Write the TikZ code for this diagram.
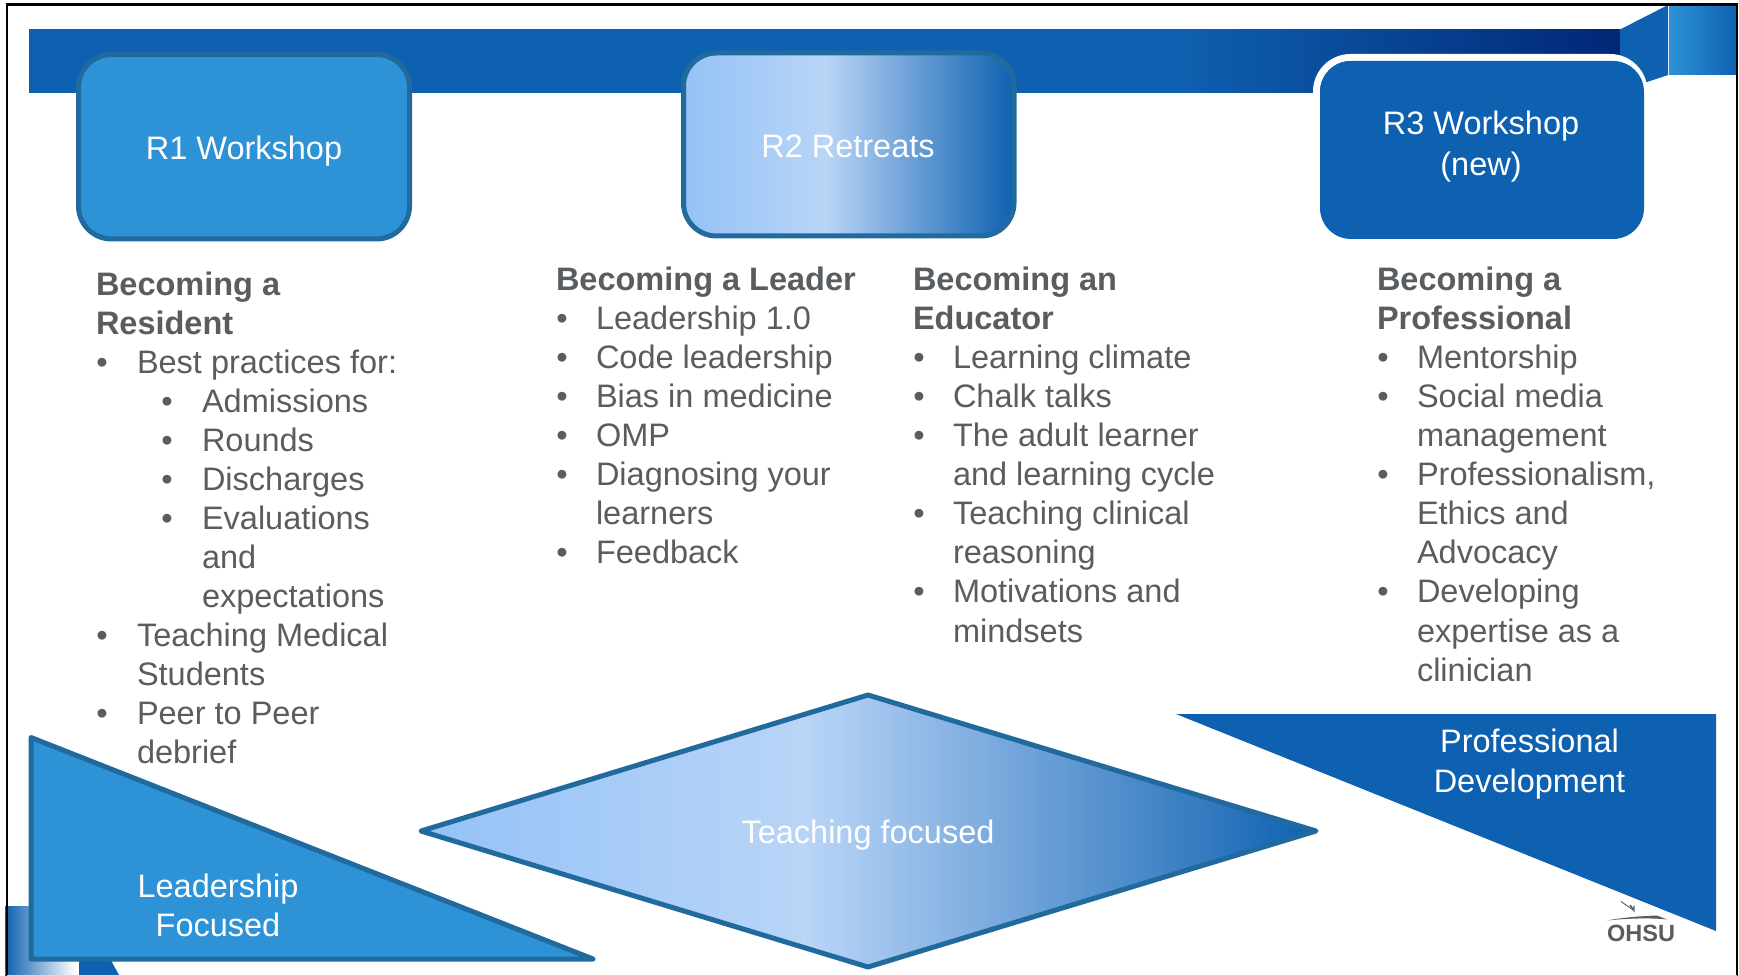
\documentclass[tikz,border=0pt]{standalone}
\usepackage{fontspec}
\setmainfont{Liberation Sans}
\definecolor{blueA}{HTML}{0E61B0}
\definecolor{blueB}{HTML}{2E92D6}
\definecolor{edgeB}{HTML}{216A9E}
\definecolor{greyT}{HTML}{595D60}
\pgfdeclarehorizontalshading{bandshade}{100bp}{rgb(0bp)=(0.055,0.38,0.69); rgb(25bp)=(0.055,0.38,0.69); rgb(61bp)=(0.055,0.38,0.69); rgb(75bp)=(0,0.153,0.463); rgb(100bp)=(0,0.153,0.463)}
\pgfdeclarehorizontalshading{softshade}{100bp}{rgb(0bp)=(0.58,0.76,0.97); rgb(25bp)=(0.58,0.76,0.97); rgb(46.5bp)=(0.725,0.835,0.97); rgb(75bp)=(0.055,0.38,0.69); rgb(100bp)=(0.055,0.38,0.69)}
\tikzset{
 lt/.style={anchor=base west,inner sep=0pt,outer sep=0pt,text=greyT,font=\fontsize{32.5}{39}\selectfont},
 hd/.style={lt,font=\fontsize{32.5}{39}\selectfont\bfseries},
 bt/.style={anchor=base,inner sep=0pt,outer sep=0pt,text=greyT,font=\fontsize{32.5}{39}\selectfont},
 wt/.style={anchor=base,inner sep=0pt,outer sep=0pt,text=white,font=\fontsize{32.5}{39}\selectfont},
 edged/.style={draw=edgeB,line width=5pt,line join=round},
}
% bullet + text line
\newcommand{\bl}[5]{\node[bt] (#1b) at (#2,#4) {•}; \node[lt] (#1) at (#3,#4) {#5};}
\begin{document}
\begin{tikzpicture}[x=1pt,y=-1pt]
\useasboundingbox (0,0) rectangle (1739,976);
\fill[white] (0,0) rectangle (1739,976);
% corner decorations
\path[shading=bandshade] (29,29.5) rectangle (1620,93);
\fill[blueA] (1620,29.5) -- (1668,5) -- (1668,75) -- (1620,91) -- cycle;
\path[left color=blueB,right color=blueA] (1669,5) rectangle (1737,75);
\path[left color=blueA,right color=white] (5,906) rectangle (75,975);
\fill[blueA] (79,955) -- (108,955) -- (119,975) -- (79,975) -- cycle;
% frame
\draw[black,line width=2.5pt] (7,976) -- (7,4.5) -- (1737,4.5) -- (1737,976);
\draw[black!15,line width=1pt] (7,975.5) -- (1737,975.5);
% header boxes
\draw[edged,fill=blueB,rounded corners=33pt] (78.5,54.5) rectangle (409.5,239);
\node[wt] (r1) at (244,160) {R1 Workshop};
\path[shading=softshade,draw=edgeB,line width=5pt,rounded corners=33pt] (683.5,53) rectangle (1014,236);
\node[wt] (r2) at (848,157.5) {R2 Retreats};
\draw[white,line width=7pt,fill=blueA,rounded corners=34pt] (1316.5,57.5) rectangle (1644,239);
\fill[blueA,rounded corners=31pt] (1320,61) rectangle (1644,239);
\node[wt] (r3a) at (1481,135) {R3 Workshop};
\node[wt] (r3b) at (1481,176) {(new)};
% column 1
\node[hd] (a0) at (96,295) {Becoming a};
\node[hd] (a1) at (96,334) {Resident};
\bl{a2}{102}{137}{373}{Best practices for:}
\bl{a3}{167}{202}{412}{Admissions}
\bl{a4}{167}{202}{451}{Rounds}
\bl{a5}{167}{202}{490}{Discharges}
\bl{a6}{167}{202}{529}{Evaluations}
\node[lt] (a7) at (202,568) {and};
\node[lt] (a8) at (202,607) {expectations};
\bl{a9}{102}{137}{646}{Teaching Medical}
\node[lt] (a10) at (137,685) {Students};
\bl{a11}{102}{137}{724}{Peer to Peer}
\node[lt] (a12) at (137,763) {debrief};
% column 2
\node[hd] (b0) at (556,290.5) {Becoming a Leader};
\bl{b1}{562}{596}{329}{Leadership 1.0}
\bl{b2}{562}{596}{368}{Code leadership}
\bl{b3}{562}{596}{407}{Bias in medicine}
\bl{b4}{562}{596}{446}{OMP}
\bl{b5}{562}{596}{485}{Diagnosing your}
\node[lt] (b6) at (596,524) {learners};
\bl{b7}{562}{596}{563}{Feedback}
% column 3
\node[hd] (c0) at (913,290.5) {Becoming an};
\node[hd] (c1) at (913,329) {Educator};
\bl{c2}{919}{953}{368}{Learning climate}
\bl{c3}{919}{953}{407}{Chalk talks}
\bl{c4}{919}{953}{446}{The adult learner}
\node[lt] (c5) at (953,485) {and learning cycle};
\bl{c6}{919}{953}{524}{Teaching clinical}
\node[lt] (c7) at (953,563) {reasoning};
\bl{c8}{919}{953}{602}{Motivations and}
\node[lt] (c9) at (953,642) {mindsets};
% column 4
\node[hd] (d0) at (1377,290.5) {Becoming a};
\node[hd] (d1) at (1377,329) {Professional};
\bl{d2}{1383}{1417}{368}{Mentorship}
\bl{d3}{1383}{1417}{407}{Social media}
\node[lt] (d4) at (1417,446) {management};
\bl{d5}{1383}{1417}{485}{Professionalism,}
\node[lt] (d6) at (1417,524) {Ethics and};
\node[lt] (d7) at (1417,563) {Advocacy};
\bl{d8}{1383}{1417}{602}{Developing}
\node[lt] (d9) at (1417,642) {expertise as a};
\node[lt] (d10) at (1417,681) {clinician};
% bottom shapes
\draw[edged,fill=blueB] (31,737.5) -- (31,959) -- (593,959) -- cycle;
\node[wt] (la) at (218,897) {Leadership};
\node[wt] (lb) at (218,936) {Focused};
\path[shading=softshade,draw=edgeB,line width=5pt,line join=round] (421,831) -- (868,695) -- (1316,831) -- (868,967) -- cycle;
\node[wt] (tf) at (868,843) {Teaching focused};
\fill[blueA] (1176,714) -- (1716,714) -- (1716,931) -- cycle;
\node[wt] (pa) at (1529.5,752) {Professional};
\node[wt] (pb) at (1529.5,792) {Development};
% logo
\node[anchor=base,inner sep=0pt,text=greyT,font=\fontsize{23.5}{24}\selectfont\bfseries] (ohsu) at (1641,941) {OHSU};
\fill[greyT] (1607,920.5) .. controls (1625,917) and (1645,916) .. (1657,915.5) -- (1667,919.5) .. controls (1650,917.5) and (1625,918.5) .. (1607,920.5) -- cycle;
\draw[greyT,line width=0.9pt] (1621,901.5) -- (1634,910.5);
\draw[greyT,line width=1.4pt] (1630,905) -- (1634,910.5) -- (1634,905.5);
\end{tikzpicture}
\end{document}
